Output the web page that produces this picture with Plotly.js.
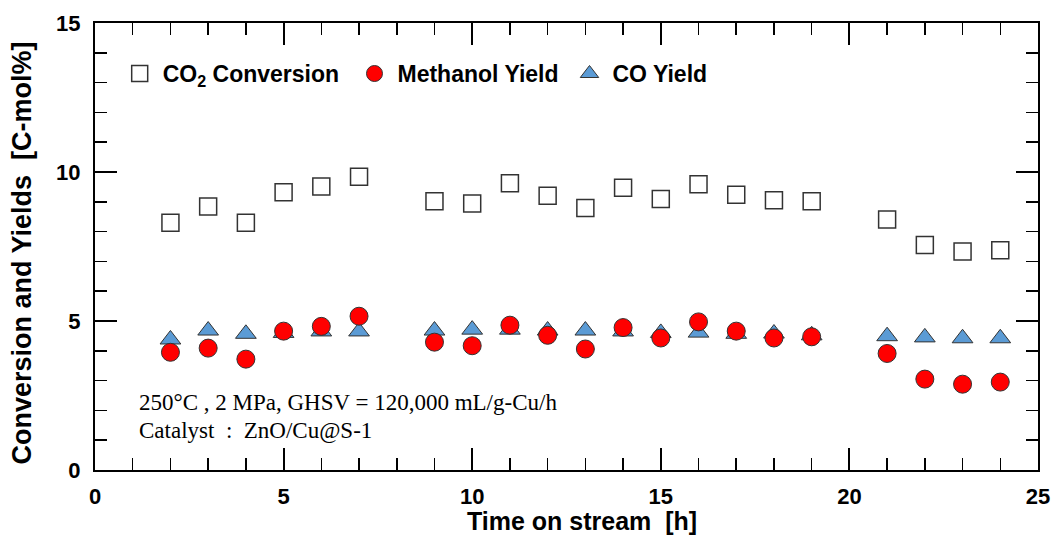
<!DOCTYPE html>
<html>
<head>
<meta charset="utf-8">
<script src="https://cdn.plot.ly/plotly-3.0.1.min.js"></script>
<style>html,body{margin:0;padding:0;background:#fff;}#chart{width:1054px;height:538px;}</style>
</head>
<body>
<div id="chart"></div>
<script>
const timeH = [2,3,4,5,6,7,9,10,11,12,13,14,15,16,17,18,19,21,22,23,24];
const co2Conversion = [8.30,8.84,8.30,9.32,9.51,9.84,9.02,8.94,9.62,9.20,8.79,9.47,9.09,9.59,9.24,9.05,9.02,8.41,7.55,7.33,7.37];
const methanolYield = [3.95,4.09,3.72,4.66,4.82,5.16,4.29,4.17,4.86,4.52,4.06,4.78,4.43,4.97,4.66,4.43,4.47,3.91,3.05,2.88,2.95];
const coYield = [4.38,4.68,4.57,4.60,4.65,4.65,4.68,4.71,4.71,4.68,4.68,4.65,4.60,4.61,4.57,4.58,4.52,4.49,4.45,4.42,4.42];
const seriesNames = ['CO<sub>2</sub> Conversion','Methanol Yield','CO Yield'];
const xTitle = 'Time on stream\u00a0\u00a0[h]';
const yTitle = 'Conversion and Yields\u00a0\u00a0[C-mol%]';
const noteLines = ['250°C , 2 MPa, GHSV = 120,000 mL/g-Cu/h','Catalyst\u00a0\u00a0:\u00a0\u00a0ZnO/Cu@S-1'];

const fam = 'Arial, "Liberation Sans", sans-serif';
const tickFont = {family:fam, size:22, color:'#000', weight:'bold'};
const xTitleFont = {family:fam, size:25, color:'#000', weight:'bold'};
const yTitleFont = {family:fam, size:27, color:'#000', weight:'bold'};
const legendFont = {family:fam, size:23, color:'#000', weight:'bold'};
const serif = '"Liberation Serif", "Times New Roman", serif';

const traces = [
  {x:timeH, y:co2Conversion, name:seriesNames[0], mode:'markers', type:'scatter', legend:'legend',
   marker:{symbol:'square', size:17, color:'#fff', line:{color:'#333', width:1.5}}},
  {x:timeH, y:coYield, name:seriesNames[2], mode:'markers', type:'scatter', legend:'legend3',
   marker:{symbol:'triangle-up', size:18, color:'#5b9bd5', line:{color:'#333', width:1}}},
  {x:timeH, y:methanolYield, name:seriesNames[1], mode:'markers', type:'scatter', legend:'legend2',
   marker:{symbol:'circle', size:18, color:'#ff0000', line:{color:'#333', width:1}}}
];

const axisCommon = {
  showgrid:false, zeroline:false, showline:true, linecolor:'#000', linewidth:2,
  mirror:'allticks', ticks:'inside', ticklen:22, tickwidth:2, tickcolor:'#000',
  tickfont:tickFont, dtick:5, tick0:0,
  minor:{dtick:1, ticks:'inside', ticklen:12, tickwidth:1.5, tickcolor:'#000', showgrid:false}
};

function legendAt(x) {
  return {orientation:'h', x:x, y:0.935, xanchor:'left', yanchor:'top', font:legendFont,
          bgcolor:'rgba(0,0,0,0)', itemwidth:36};
}

const layout = {
  width:1054, height:538,
  margin:{l:95, r:16, t:23, b:68},
  paper_bgcolor:'#fff', plot_bgcolor:'#fff',
  showlegend:true,
  legend:legendAt(0.023),
  legend2:legendAt(0.272),
  legend3:legendAt(0.500),
  xaxis:Object.assign({}, axisCommon, {range:[0,25], ticklabelstandoff:6}),
  yaxis:Object.assign({}, axisCommon, {range:[0,15], ticklabelstandoff:8}),
  annotations:[
    {xref:'paper', yref:'paper', x:0.5164, y:-0.113, xanchor:'center', yanchor:'middle', showarrow:false,
     text:xTitle, font:xTitleFont},
    {xref:'paper', yref:'paper', x:-0.0774, y:0.4843, xanchor:'center', yanchor:'middle', showarrow:false,
     text:yTitle, font:yTitleFont, textangle:-90},
    {xref:'paper', yref:'paper', x:0.045, y:0.152, xanchor:'left', yanchor:'middle', showarrow:false,
     text:noteLines[0], font:{family:serif, size:23, color:'#000'}},
    {xref:'paper', yref:'paper', x:0.045, y:0.089, xanchor:'left', yanchor:'middle', showarrow:false,
     text:noteLines[1], font:{family:serif, size:23, color:'#000'}}
  ]
};

Plotly.newPlot('chart', traces, layout, {staticPlot:true, displayModeBar:false});
</script>
</body>
</html>
